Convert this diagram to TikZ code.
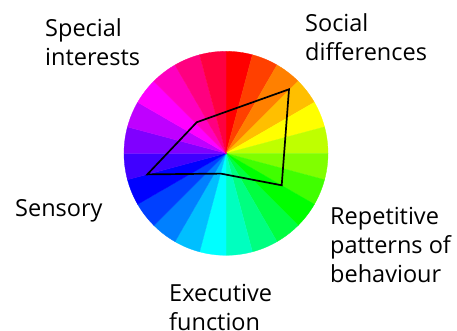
\documentclass[tikz,border=0pt]{standalone}
\usepackage{fontspec}
\setmainfont{Open Sans}
\begin{document}
\begin{tikzpicture}[x=1pt,y=-1pt,
  lbl/.style={anchor=base west,align=left,inner sep=0pt,font=\fontsize{23.5}{29}\selectfont},
  profile/.style={draw=black,line width=1.7pt,line join=miter}]
\useasboundingbox (0,0) rectangle (457,330);
\coordinate (c) at (226,153.3);
\foreach \i/\r/\g/\bl in {0/255/0/0,1/255/64/0,2/255/128/0,3/255/191/0,4/255/255/0,5/191/255/0,
  6/128/255/0,7/64/255/0,8/0/255/0,9/0/255/64,10/0/255/128,11/0/255/191,12/0/255/255,
  13/0/191/255,14/0/128/255,15/0/64/255,16/0/0/255,17/64/0/255,18/128/0/255,19/191/0/255,
  20/255/0/255,21/255/0/191,22/255/0/128,23/255/0/64}{
  \pgfmathsetmacro{\a}{-90+15*\i}
  \pgfmathsetmacro{\b}{-75+15*\i}
  \definecolor{wedge}{RGB}{\r,\g,\bl}
  \fill[wedge,draw=wedge,line width=0.3pt] (c) -- ++(\a:102) arc[start angle=\a,end angle=\b,radius=102] -- cycle;
}
\coordinate (soc) at (289,89.3);
\coordinate (rep) at (281.7,185.3);
\coordinate (exe) at (220.8,173.6);
\coordinate (sen) at (147.3,174.4);
\coordinate (spe) at (196.8,122.2);
\draw[profile] (soc) -- (rep) -- (exe) -- (sen) -- (spe) -- cycle;
\node[lbl] (tspe) at (45,65) {Special\\interests};
\node[lbl] (tsoc) at (305,60.7) {Social\\differences};
\node[lbl] (trep) at (330,282) {Repetitive\\patterns of\\behaviour};
\node[lbl] (texe) at (169,330.5) {Executive\\function};
\node[lbl] (tsen) at (15,216.7) {Sensory};
\end{tikzpicture}
\end{document}
